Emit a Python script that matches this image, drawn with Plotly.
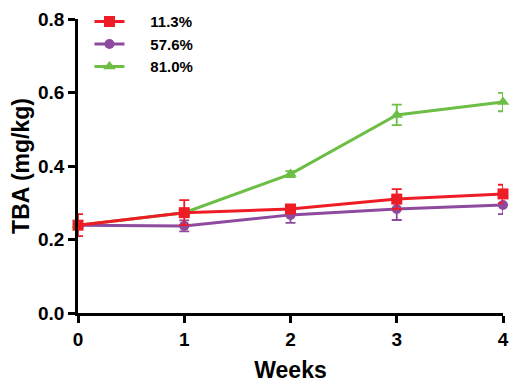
import plotly.graph_objects as go

weeks = [0, 1, 2, 3, 4]
labels = ["11.3%", "57.6%", "81.0%"]
red_vals = [0.239, 0.273, 0.283, 0.310, 0.324]
red_err = [0.030, 0.034, 0.010, 0.027, 0.025]
purple_vals = [0.239, 0.237, 0.267, 0.283, 0.294]
purple_err = [0.000, 0.015, 0.022, 0.030, 0.025]
green_vals = [0.239, 0.273, 0.378, 0.539, 0.574]
green_err = [0.000, 0.000, 0.008, 0.028, 0.025]

colors = ["#EE1C25", "#8E4A9E", "#6CBE45"]
symbols = ["square", "circle", "triangle-up"]
sizes = [11, 10, 11]

series = [
    (labels[2], green_vals, green_err, colors[2], symbols[2], sizes[2], 3),
    (labels[1], purple_vals, purple_err, colors[1], symbols[1], sizes[1], 2),
    (labels[0], red_vals, red_err, colors[0], symbols[0], sizes[0], 1),
]

fig = go.Figure()
for name, vals, err, col, sym, sz, rank in series:
    fig.add_trace(go.Scatter(
        x=weeks, y=vals, name="\u00a0\u00a0\u00a0\u00a0\u00a0" + name, mode="lines+markers",
        line=dict(color=col, width=3),
        marker=dict(symbol=sym, size=sz, color=col),
        error_y=dict(type="data", array=err, visible=True, color=col, thickness=1.8, width=5),
        cliponaxis=False, legendrank=rank,
    ))

# page body has an 8px default margin, so the figure is offset by 8px
fig.update_layout(
    width=510, height=384,
    margin=dict(l=70, r=15, t=11, b=79, autoexpand=False),
    paper_bgcolor="white", plot_bgcolor="white",
    font=dict(family="Liberation Sans, Arial, sans-serif", color="black"),
    showlegend=True,
    legend=dict(x=0.027, y=1.047, xanchor="left", yanchor="top",
                font=dict(size=15, family="Liberation Sans, Arial, sans-serif", weight="bold"),
                bgcolor="rgba(0,0,0,0)", itemwidth=30),
    xaxis=dict(range=[0, 4], tickvals=weeks, showgrid=False, zeroline=False,
               showline=True, linecolor="black", linewidth=2.5,
               ticks="outside", ticklen=7, tickwidth=2.5, tickcolor="black",
               tickfont=dict(size=19, weight="bold"), automargin=False,
               title=dict(text="Weeks", font=dict(size=23, weight="bold"), standoff=14)),
    yaxis=dict(range=[0, 0.8], tickvals=[0, 0.2, 0.4, 0.6, 0.8], tickformat=".1f",
               showgrid=False, zeroline=False,
               showline=True, linecolor="black", linewidth=2.5,
               ticks="outside", ticklen=7, tickwidth=2.5, tickcolor="black",
               tickfont=dict(size=19, weight="bold"), automargin=False,
               title=dict(text="TBA (mg/kg)", font=dict(size=23, weight="bold"), standoff=17)),
)

fig.write_html("out.html")
